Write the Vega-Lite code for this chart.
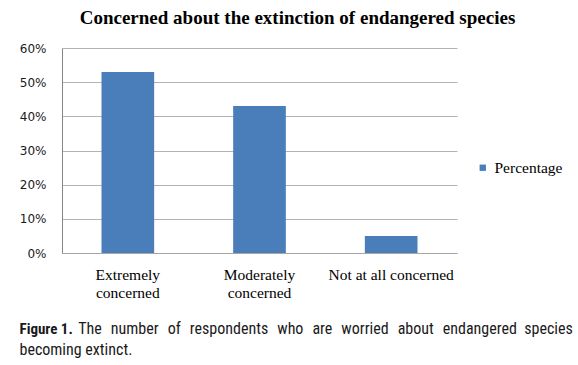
{
  "$schema": "https://vega.github.io/schema/vega-lite/v6.json",
  "autosize": {"type": "none"},
  "width": 395,
  "height": 205,
  "padding": {"left": 62, "top": 48, "right": 121, "bottom": 112},
  "background": "white",
  "title": {
    "text": "Concerned about the extinction of endangered species",
    "font": "Liberation Serif",
    "fontSize": 19,
    "fontWeight": "bold",
    "color": "#000000",
    "anchor": "middle",
    "frame": "group",
    "dx": 38,
    "offset": 14
  },
  "data": {
    "values": [
      {"category": "Extremely concerned", "value": 0.53, "series": "Percentage"},
      {"category": "Moderately concerned", "value": 0.43, "series": "Percentage"},
      {"category": "Not at all concerned", "value": 0.05, "series": "Percentage"}
    ]
  },
  "mark": {"type": "bar"},
  "encoding": {
    "x": {
      "field": "category",
      "type": "nominal",
      "sort": null,
      "scale": {"paddingInner": 0.6, "paddingOuter": 0.3},
      "axis": {
        "labelAngle": 0,
        "labelExpr": "datum.value == 'Extremely concerned' ? ['Extremely', 'concerned'] : datum.value == 'Moderately concerned' ? ['Moderately', 'concerned'] : datum.label",
        "labelFont": "Liberation Serif",
        "labelFontSize": 15.5,
        "labelColor": "#000000",
        "labelLineHeight": 18.5,
        "labelPadding": 14,
        "ticks": false,
        "domainColor": "#a6a6a6",
        "title": ["\u200b\u00a0\u00a0\u00a0\u00a0\u00a0\u00a0\u00a0\u00a0\u00a0\u00a0\u00a0\u00a0\u00a0\u00a0\u00a0\u00a0The \u00a0\u200anumber \u00a0\u200aof \u00a0\u200arespondents \u00a0\u200awho \u00a0\u200aare \u00a0\u200aworried \u00a0\u200aabout \u00a0\u200aendangered \u00a0species", "becoming extinct."],
        "titleFont": "Liberation Sans Narrow, Roboto Condensed, DejaVu Sans Condensed, sans-serif",
        "titleFontSize": 16,
        "titleFontWeight": "normal",
        "titleColor": "#1a1a1a",
        "titleLineHeight": 21,
        "titleAnchor": null,
        "titleAlign": "left",
        "titleBaseline": "alphabetic",
        "titleX": -43,
        "titleY": 80
      }
    },
    "y": {
      "field": "value",
      "type": "quantitative",
      "scale": {"domain": [0, 0.6], "nice": false},
      "axis": {
        "values": [0, 0.1, 0.2, 0.3, 0.4, 0.5, 0.6],
        "format": ".0%",
        "labelFont": "DejaVu Sans",
        "labelFontSize": 12,
        "labelColor": "#1a1a1a",
        "labelPadding": 16,
        "ticks": false,
        "domainColor": "#868686",
        "grid": true,
        "gridColor": "#b3b3b3",
        "title": "Figure 1.",
        "titleFont": "Liberation Sans Narrow, Roboto Condensed, DejaVu Sans Condensed, sans-serif",
        "titleFontSize": 15,
        "titleFontWeight": "bold",
        "titleColor": "#1a1a1a",
        "titleAngle": 0,
        "titleAnchor": null,
        "titleAlign": "left",
        "titleBaseline": "alphabetic",
        "titleX": -43,
        "titleY": 285
      }
    },
    "color": {
      "field": "series",
      "type": "nominal",
      "scale": {"range": ["#4a7ebb"]},
      "legend": {
        "title": null,
        "orient": "none",
        "legendX": 413,
        "legendY": 112,
        "padding": 0,
        "symbolType": "square",
        "symbolSize": 40,
        "symbolStrokeWidth": 0,
        "labelFont": "Liberation Serif",
        "labelFontSize": 15.5,
        "labelColor": "#000000",
        "labelOffset": 4
      }
    }
  },
  "config": {
    "view": {"stroke": null},
    "axis": {"gridWidth": 1, "domainWidth": 1}
  }
}
